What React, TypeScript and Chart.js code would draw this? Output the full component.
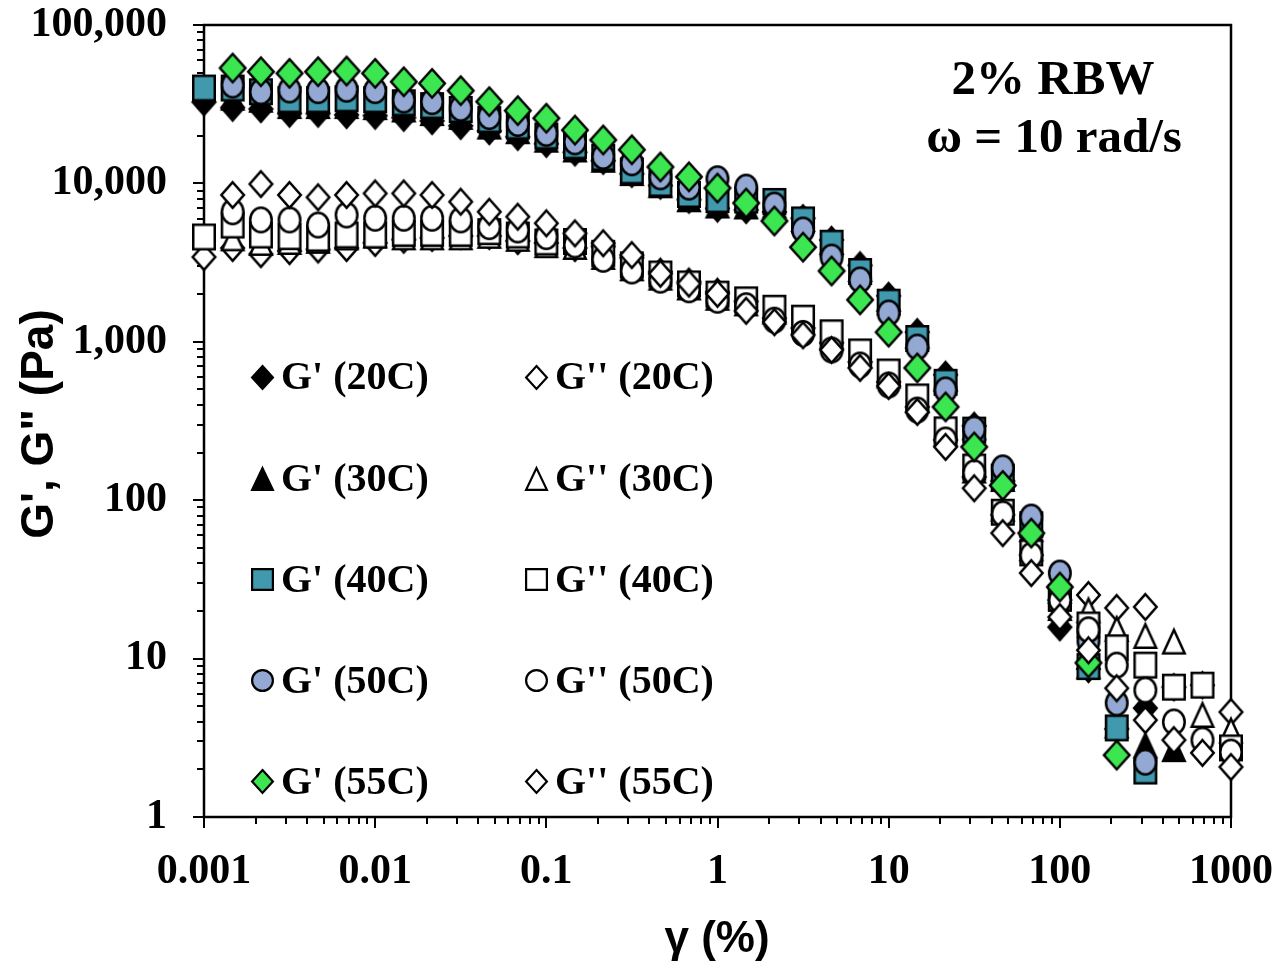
import React, { useEffect, useRef } from 'react';
import { Chart, registerables } from 'chart.js';

Chart.register(...registerables);

// strain amplitude (%) of each measured point
const strain = [
  0.001, 0.00147, 0.00215, 0.00316, 0.00464, 0.00681, 0.01, 0.0147, 0.0215, 0.0316, 0.0464, 0.0681,
  0.1, 0.147, 0.215, 0.316, 0.464, 0.681, 1, 1.47, 2.15, 3.16, 4.64, 6.81, 10, 14.7, 21.5, 31.6,
  46.4, 68.1, 100, 147, 215, 316, 464, 681, 1000,
];

const seriesNames = [
  "G' (20C)", "G'' (20C)", "G' (30C)", "G'' (30C)", "G' (40C)",
  "G'' (40C)", "G' (50C)", "G'' (50C)", "G' (55C)", "G'' (55C)",
];

const gp20 = [32600, 30100, 29500, 27600, 27600, 27100, 26800, 26000, 24800, 23100, 21400, 19700, 17800, 15700, 13900, 11500, 9700, 7900, 6950, 6800, 6600, 6030, 4400, 3040, 1950, 1150, 619, 295, 132, 60, 15.8, 8.6, 3.6, 4.87, null, null, null];
const gpp20 = [3430, 3910, 3580, 3740, 3830, 3910, 4210, 4420, 4530, 4660, 4660, 4330, 4210, 3910, 4000, 3400, 2770, 2400, 2070, 1800, 1410, 1220, 986, 746, 558, 388, 240, 140, 80.8, 45, 23.4, 25.2, 20.9, 21.2, 6.6, 6.8, 4.6];
const gp30 = [null, 35000, 34000, 31000, 31000, 31000, 30500, 29500, 28000, 26500, 23000, 21500, 19000, 16500, 14200, 11700, 9800, 8000, 7300, 7200, 7300, 6000, 4300, 2900, 1880, 1100, 590, 290, 137, 66, 21, 9.0, 3.8, 2.85, 2.7, null, null];
const gpp30 = [null, 4530, 4240, 4300, 4370, 4590, 4720, 4600, 4600, 4600, 4700, 4500, 4100, 4000, 3460, 2930, 2560, 2220, 1910, 1760, 1560, 1350, 1090, 826, 617, 430, 266, 155, 89, 50, 27, 20.3, 15.5, 14.0, 12.9, 4.44, 3.54];
const gp40 = [40000, 40000, 37900, 33800, 33800, 34200, 33800, 32300, 31000, 29300, 25300, 23000, 19900, 17300, 14600, 12000, 10000, 8510, 7900, 7850, 7700, 5880, 4190, 2780, 1780, 1050, 555, 277, 140, 70, 24, 8.9, 3.65, 1.95, null, null, null];
const gpp40 = [4590, 5460, 4720, 4610, 4500, 4720, 4720, 4840, 4840, 4840, 4960, 4720, 4270, 4300, 3620, 3060, 2680, 2320, 2000, 1840, 1630, 1410, 1140, 863, 645, 449, 278, 162, 84, 46.5, 24.2, 16.3, 11.7, 9.1, 6.6, 6.8, 2.73];
const gp50 = [null, 41800, 37900, 38900, 38500, 39300, 38500, 33600, 32800, 29800, 26400, 23900, 20700, 18300, 14800, 13500, 11000, 9480, 10700, 9480, 7300, 5080, 3430, 2460, 1520, 927, 497, 281, 160, 78.3, 34.7, 12.9, 5.25, 2.22, null, null, null];
const gpp50 = [null, 6620, 5880, 5880, 5460, 6320, 6030, 6030, 6030, 5880, 5330, 5080, 4610, 4090, 3320, 2800, 2450, 2130, 1830, 1690, 1370, 1130, 888, 714, 534, 371, 240, 149, 82, 45, 23.4, 15.2, 9.1, 6.33, 3.98, 3.06, 2.57];
const gp55 = [null, 53500, 50700, 49500, 50700, 51200, 49500, 43800, 42800, 38500, 32800, 28800, 25800, 21700, 18800, 16300, 12700, 11000, 9350, 7520, 5790, 3960, 2800, 1840, 1150, 684, 388, 217, 124, 62, 28.3, 9.4, 2.46, null, null, null, null];
const gpp55 = [null, 8450, 9910, 8450, 8170, 8450, 8650, 8650, 8450, 7660, 6620, 6160, 5600, 4840, 4190, 3530, 2690, 2330, 2010, 1570, 1330, 1100, 888, 684, 526, 361, 217, 119, 62, 34.7, 18.3, 11.3, 6.5, 4.09, 3.06, 2.54, 2.07];

const seriesValues = [gp20, gpp20, gp30, gpp30, gp40, gpp40, gp50, gpp50, gp55, gpp55];

const xTickLabels = ['0.001', '0.01', '0.1', '1', '10', '100', '1000'];
const yTickLabels = ['1', '10', '100', '1,000', '10,000', '100,000'];

const annotationLines = ['2% RBW', 'ω = 10 rad/s'];
const yTitle = 'G\', G" (Pa)';
const xTitle = 'γ (%)';

// marker styles
const TEAL = '#4199AE';
const LBLUE = '#93A9D3';
const GREEN = '#3CE650';
const markerSpecs = [
  { shape: 'diamond', fill: '#000000', w: 25, h: 28 },
  { shape: 'diamond', fill: '#ffffff', w: 25, h: 28 },
  { shape: 'triangle', fill: '#000000', w: 24, h: 27 },
  { shape: 'triangle', fill: '#ffffff', w: 24, h: 27 },
  { shape: 'square', fill: TEAL, w: 24, h: 27 },
  { shape: 'square', fill: '#ffffff', w: 24, h: 27 },
  { shape: 'circle', fill: LBLUE, w: 24, h: 27 },
  { shape: 'circle', fill: '#ffffff', w: 24, h: 27 },
  { shape: 'diamond', fill: GREEN, w: 28, h: 31 },
  { shape: 'diamond', fill: '#ffffff', w: 25, h: 28 },
];

const SERIF = '"Liberation Serif", "Times New Roman", serif';
const SANS = '"Liberation Sans", Arial, sans-serif';

function makeMarker(shape: string, w: number, h: number, fill: string, lw: number) {
  const m = 3;
  const c = document.createElement('canvas');
  c.width = w + 2 * m;
  c.height = h + 2 * m;
  const g = c.getContext('2d') as CanvasRenderingContext2D;
  const i = lw / 2;
  g.translate(m, m);
  g.beginPath();
  if (shape === 'diamond') {
    g.moveTo(w / 2, i);
    g.lineTo(w - i, h / 2);
    g.lineTo(w / 2, h - i);
    g.lineTo(i, h / 2);
    g.closePath();
  } else if (shape === 'triangle') {
    g.moveTo(w / 2, i + 1);
    g.lineTo(w - i, h - i);
    g.lineTo(i, h - i);
    g.closePath();
  } else if (shape === 'square') {
    g.rect(i, i, w - lw, h - lw);
  } else {
    g.ellipse(w / 2, h / 2, w / 2 - i, h / 2 - i, 0, 0, Math.PI * 2);
  }
  g.fillStyle = fill;
  g.fill();
  g.lineWidth = lw;
  g.lineJoin = 'miter';
  g.strokeStyle = '#000';
  g.stroke();
  return c;
}

function isDecade(v: number) {
  const e = Math.log10(v);
  return Math.abs(e - Math.round(e)) < 1e-9;
}

function zeroPadding(s: any) {
  s.paddingTop = 0;
  s.paddingBottom = 0;
  s.paddingLeft = 0;
  s.paddingRight = 0;
}

export default function App() {
  const ref = useRef<HTMLCanvasElement | null>(null);

  useEffect(() => {
    if (!ref.current) return;
    const pointImgs = markerSpecs.map((s) => makeMarker(s.shape, s.w, s.h, s.fill, 2.5));
    const legendImgs = markerSpecs.map((s) =>
      makeMarker(s.shape, 23, s.shape === 'square' || s.shape === 'circle' ? 23 : 25, s.fill, 2.2)
    );

    const datasets = seriesNames.map((name, i) => ({
      label: name,
      data: strain
        .map((x, k) => ({ x, y: seriesValues[i][k] }))
        .filter((p) => p.y !== null && p.y !== undefined),
      pointStyle: pointImgs[i],
      pointRadius: 13,
      pointHoverRadius: 13,
      showLine: false,
      order: 20 - i,
      clip: false as any,
    }));

    const overlay = {
      id: 'overlay',
      beforeDatasetsDraw(chart: any) {
        const { ctx, chartArea: a, scales } = chart;
        ctx.save();
        ctx.strokeStyle = '#000';
        ctx.lineWidth = 2;
        for (let e = 0; e <= 5; e++) {
          for (let m = 1; m <= 9; m++) {
            if (e === 5 && m > 1) break;
            const py = Math.round(scales.y.getPixelForValue(m * Math.pow(10, e)));
            const len = m === 1 ? 11 : 7;
            ctx.beginPath();
            ctx.moveTo(a.left - len, py);
            ctx.lineTo(a.left, py);
            ctx.stroke();
          }
        }
        for (let e = -3; e <= 3; e++) {
          for (let m = 1; m <= 9; m++) {
            if (e === 3 && m > 1) break;
            const px = Math.round(scales.x.getPixelForValue(m * Math.pow(10, e)));
            const len = m === 1 ? 11 : 7;
            ctx.beginPath();
            ctx.moveTo(px, a.bottom);
            ctx.lineTo(px, a.bottom + len);
            ctx.stroke();
          }
        }
        ctx.lineWidth = 2.5;
        ctx.strokeRect(a.left, a.top, a.right - a.left, a.bottom - a.top);
        ctx.restore();
      },
      afterDraw(chart: any) {
        const { ctx } = chart;
        ctx.save();
        // legend (two columns, five rows)
        ctx.fillStyle = '#000';
        ctx.font = `bold 40px ${SERIF}`;
        ctx.textBaseline = 'middle';
        ctx.textAlign = 'left';
        seriesNames.forEach((name, i) => {
          const row = Math.floor(i / 2);
          const col = i % 2;
          const mx = col === 0 ? 262 : 536;
          const my = 377 + row * 101.2;
          const img = legendImgs[i];
          ctx.drawImage(img, Math.round(mx - img.width / 2), Math.round(my - img.height / 2));
          ctx.fillText(name, mx + 19, my + 2);
        });
        // annotation
        ctx.textAlign = 'center';
        ctx.textBaseline = 'alphabetic';
        ctx.font = `bold 49px ${SERIF}`;
        ctx.fillText(annotationLines[0], 1053, 94);
        ctx.fillText(annotationLines[1], 1054, 152);
        // axis titles
        ctx.font = `bold 44px ${SANS}`;
        ctx.textBaseline = 'middle';
        ctx.fillText(xTitle, 717, 940);
        ctx.translate(40, 424);
        ctx.rotate(-Math.PI / 2);
        ctx.font = `bold 46px ${SANS}`;
        ctx.fillText(yTitle, 0, 0);
        ctx.restore();
      },
    };

    const chart = new Chart(ref.current, {
      type: 'scatter',
      data: { datasets: datasets as any },
      options: {
        animation: false,
        responsive: true,
        maintainAspectRatio: false,
        events: [],
        layout: { padding: { top: 25, right: 48, left: 0, bottom: 0 } },
        plugins: { legend: { display: false }, tooltip: { enabled: false } },
        scales: {
          x: {
            type: 'logarithmic',
            min: 0.001,
            max: 1000,
            border: { display: false },
            grid: { display: true, drawOnChartArea: false, drawTicks: false, color: 'rgba(0,0,0,0)' },
            afterFit: (s: any) => { s.height = 152; zeroPadding(s); },
            ticks: {
              autoSkip: false,
              maxRotation: 0,
              padding: 30,
              color: '#000',
              font: { family: SERIF, size: 42, weight: 'bold' },
              callback: (v: any) => {
                const n = Number(v);
                return isDecade(n) ? xTickLabels[Math.round(Math.log10(n)) + 3] : '';
              },
            },
          },
          y: {
            type: 'logarithmic',
            min: 1,
            max: 100000,
            border: { display: false },
            grid: { display: true, drawOnChartArea: false, drawTicks: false, color: 'rgba(0,0,0,0)' },
            afterFit: (s: any) => { s.width = 204; zeroPadding(s); },
            ticks: {
              autoSkip: false,
              padding: 37,
              color: '#000',
              font: { family: SERIF, size: 42, weight: 'bold' },
              callback: (v: any) => {
                const n = Number(v);
                return isDecade(n) ? yTickLabels[Math.round(Math.log10(n))] : '';
              },
            },
          },
        },
      },
      plugins: [overlay],
    });
    return () => chart.destroy();
  }, []);

  return (
    <div style={{ position: 'absolute', left: 0, top: 0, width: 1279, height: 969, background: '#fff' }}>
      <canvas ref={ref} />
    </div>
  );
}
